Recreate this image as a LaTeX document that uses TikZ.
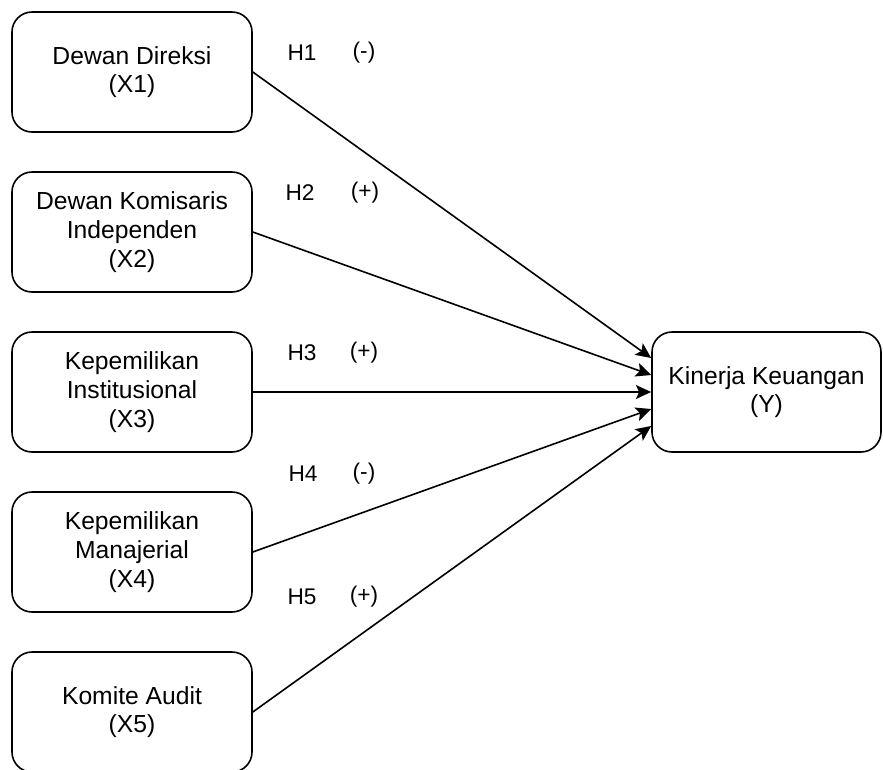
\documentclass[tikz,border=0pt]{standalone}
\usepackage{fontspec}
\setmainfont{Liberation Sans}
\usetikzlibrary{arrows.meta,calc}

\tikzset{every picture/.style={line width=1.2pt}}
\tikzset{
  varbox/.style={draw, rounded corners=15pt, minimum width=180pt, minimum height=90pt, align=center, inner sep=0.75pt, font=\fontsize{18.5}{21.5}\selectfont},
  hyplabel/.style={inner sep=0.75pt, font=\fontsize{17}{20}\selectfont},
  hyparrow/.style={-{Stealth[length=11.5pt,width=10.5pt,inset=2.5pt]}}
}

\begin{document}
\begin{tikzpicture}[x=0.75pt,y=0.75pt,yscale=-1,xscale=1]
    \useasboundingbox (0,0) rectangle (883,769);

    %Rounded Rect 
    \node (x1) at (132,72) [varbox] {Dewan Direksi\\(X1)};
    %Rounded Rect 
    \node (x2) at (132,232) [varbox] {Dewan Komisaris\\Independen\\(X2)};
    %Rounded Rect 
    \node (x3) at (132,392) [varbox] {Kepemilikan\\Institusional\\(X3)};
    %Rounded Rect 
    \node (x4) at (132,552) [varbox] {Kepemilikan\\Manajerial\\(X4)};
    %Rounded Rect 
    \node (x5) at (132,712) [varbox] {Komite Audit\\(X5)};
    %Rounded Rect 
    \node (y) at (766.5,392) [varbox, minimum width=171.75pt] {Kinerja Keuangan\\(Y)};

    %Straight Lines 
    \draw [hyparrow] (x1.east) -- ($(y.west)+(0,-34)$) ;
    %Straight Lines 
    \draw [hyparrow] (x2.east) -- ($(y.west)+(0,-17)$) ;
    %Straight Lines 
    \draw [hyparrow] (x3.east) -- (y.west) ;
    %Straight Lines 
    \draw [hyparrow] (x4.east) -- ($(y.west)+(0,17)$) ;
    %Straight Lines 
    \draw [hyparrow] (x5.east) -- ($(y.west)+(0,34)$) ;

    % Text Node
    \node (h1) at (302,53) [hyplabel] {H1};
    % Text Node
    \node (s1) at (364,53) [hyplabel] {(-)};
    % Text Node
    \node (h2) at (300,193) [hyplabel] {H2};
    % Text Node
    \node (s2) at (365,193) [hyplabel] {(+)};
    % Text Node
    \node (h3) at (302,353) [hyplabel] {H3};
    % Text Node
    \node (s3) at (364,353) [hyplabel] {(+)};
    % Text Node
    \node (h4) at (303,474) [hyplabel] {H4};
    % Text Node
    \node (s4) at (364,474) [hyplabel] {(-)};
    % Text Node
    \node (h5) at (302,597) [hyplabel] {H5};
    % Text Node
    \node (s5) at (364,597) [hyplabel] {(+)};
\end{tikzpicture}
\end{document}
